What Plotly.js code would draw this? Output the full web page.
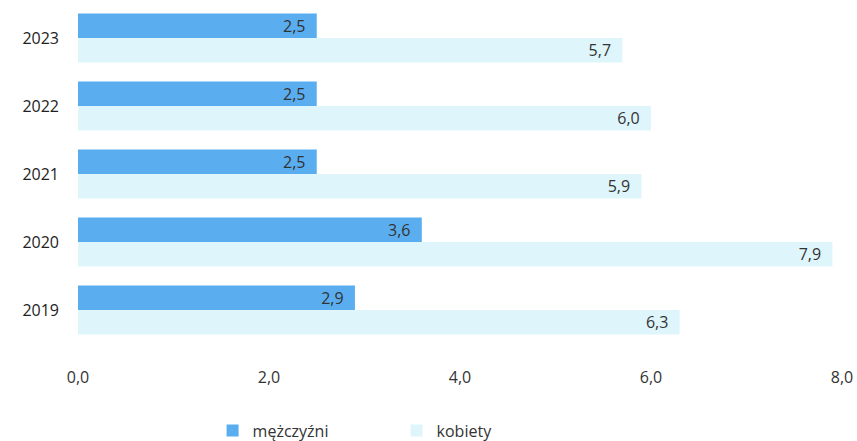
<!DOCTYPE html>
<html><head><meta charset="utf-8">
<script src="https://cdn.plot.ly/plotly-3.0.1.min.js"></script>
<style>html,body{margin:0;padding:0;background:#fff}</style>
</head><body>
<div id="chart" style="width:857px;height:441px"></div>
<script>
const years = ['2023','2022','2021','2020','2019'];
const men = [2.5, 2.5, 2.5, 3.6, 2.9];
const women = [5.7, 6.0, 5.9, 7.9, 6.3];
const xTicks = [0, 2, 4, 6, 8];

const common = {
  type: 'bar', orientation: 'h', y: years,
  textposition: 'inside', insidetextanchor: 'end', constraintext: 'none',
  texttemplate: '%{x:.1f}  ',
  textfont: {family: 'Open Sans, sans-serif', size: 16, color: '#333'},
  hoverinfo: 'skip'
};
const data = [
  Object.assign({}, common, {name: 'mężczyźni', x: men, marker: {color: '#5aaef0'}}),
  Object.assign({}, common, {name: 'kobiety', x: women, marker: {color: '#def6fb'}})
];
const layout = {
  width: 857, height: 441,
  margin: {l: 78, r: 15, t: 4, b: 97, autoexpand: false},
  barmode: 'group', bargap: 0.28, bargroupgap: 0,
  separators: ', ',
  paper_bgcolor: '#fff', plot_bgcolor: '#fff',
  font: {family: 'Open Sans, sans-serif', color: '#333', size: 15},
  xaxis: {range: [0, 8], tickvals: xTicks, tickformat: '.1f', showgrid: false,
    zeroline: false, showline: false, ticks: '', ticklabelstandoff: 22, automargin: false,
    tickfont: {size: 16, color: '#333'}, fixedrange: true},
  yaxis: {autorange: 'reversed', type: 'category', showgrid: false, showline: false,
    ticks: '', ticklabelstandoff: 18, automargin: false, tickfont: {size: 16, color: '#222'}},
  showlegend: true,
  legend: {orientation: 'h', x: 0.417, xanchor: 'center', y: -0.255, yanchor: 'middle',
    font: {size: 16, color: '#333'}, traceorder: 'normal', itemwidth: 30,
    entrywidth: 139}
};
Plotly.newPlot('chart', data, layout, {displayModeBar: false, staticPlot: true});
</script>
</body></html>
